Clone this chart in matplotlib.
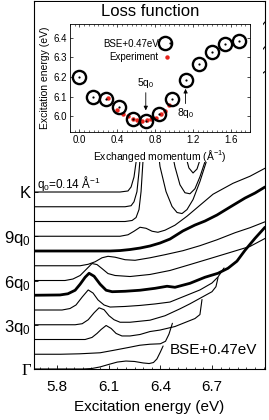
import numpy as np
import matplotlib
matplotlib.use('Agg')
import matplotlib.pyplot as plt
from matplotlib.ticker import MultipleLocator
from matplotlib.patches import Rectangle
from matplotlib.legend_handler import HandlerTuple

plt.rcParams['font.family'] = ['Liberation Sans', 'DejaVu Sans']
plt.rcParams['mathtext.default'] = 'regular'

# loss spectra: energy (eV) and intensity (one unit = spacing between curves)
e_g = [5.666, 5.95, 6.00, 6.05, 6.10, 6.15, 6.20, 6.25, 6.30, 6.335, 6.36, 6.38, 6.40, 6.416]
i_g = [0, 0, 0.03, 0.14, 0.31, 0.47, 0.54, 0.51, 0.41, 0.37, 0.44, 0.68, 1.15, 1.56]

e_q1 = [5.666, 5.82, 5.93, 6.05, 6.13, 6.22, 6.28, 6.34, 6.40, 6.43, 6.45, 6.47]
i_q1 = [0, 0, 0.03, 0.10, 0.27, 0.47, 0.61, 0.68, 0.71, 0.88, 1.36, 2.10]

e_q2 = [5.666, 5.963, 6.003, 6.032, 6.056, 6.085, 6.114, 6.143, 6.177, 6.224, 6.282,
        6.340, 6.398, 6.485, 6.543, 6.601, 6.630, 6.642]
i_q2 = [0, 0, 0.14, 0.41, 0.68, 0.95, 0.75, 0.41, 0.24, 0.24, 0.34,
        0.54, 0.64, 0.88, 1.15, 1.42, 1.69, 2.71]

e_q3 = [5.666, 5.905, 5.946, 5.981, 6.015, 6.044, 6.073, 6.102, 6.131, 6.166, 6.224,
        6.340, 6.427, 6.514, 6.572, 6.636, 6.700, 6.723, 6.735]
i_q3 = [0, 0, 0.07, 0.34, 0.81, 1.15, 1.02, 0.61, 0.34, 0.17, 0.17,
        0.31, 0.61, 1.08, 1.42, 1.83, 2.24, 2.58, 3.19]

e_q4 = [5.666, 5.829, 5.875, 5.910, 5.946, 5.981, 6.009, 6.038, 6.073, 6.108, 6.195,
        6.282, 6.369, 6.456, 6.543, 6.630, 6.700, 6.735, 6.770]
i_q4 = [0, 0, 0.10, 0.34, 0.88, 1.36, 1.15, 0.68, 0.34, 0.20, 0.24,
        0.31, 0.41, 0.54, 0.95, 1.36, 1.83, 2.24, 2.85]

e_q5 = [5.666, 5.817, 5.863, 5.905, 5.934, 5.963, 5.986, 6.015, 6.050, 6.085, 6.120, 6.195,
        6.282, 6.369, 6.439, 6.485, 6.572, 6.659, 6.735, 6.793, 6.845, 6.892, 6.950, 7.008]
i_q5 = [0, 0.02, 0.10, 0.34, 0.75, 1.22, 1.49, 1.29, 0.75, 0.34, 0.24, 0.27,
        0.34, 0.47, 0.61, 0.54, 0.81, 1.22, 1.49, 1.83, 2.31, 3.05, 3.86, 4.61]

e_q6 = [5.666, 5.846, 5.892, 5.934, 5.969, 6.003, 6.032, 6.061, 6.096, 6.137, 6.224,
        6.340, 6.456, 6.572, 6.689, 6.805, 6.921, 7.008]
i_q6 = [0, 0, 0.10, 0.34, 0.75, 1.15, 1.08, 0.81, 0.47, 0.34, 0.27,
        0.41, 0.68, 1.08, 1.49, 1.90, 2.31, 2.85]

e_q7 = [5.666, 5.934, 5.981, 6.021, 6.061, 6.096, 6.137, 6.195, 6.253, 6.340, 6.427,
        6.531, 6.630, 6.729, 6.834, 6.921, 7.008]
i_q7 = [0, 0, 0.10, 0.27, 0.54, 0.64, 0.58, 0.41, 0.37, 0.54, 0.75,
        1.02, 1.36, 1.76, 2.24, 2.58, 2.98]

e_q8 = [5.666, 6.108, 6.166, 6.224, 6.282, 6.340, 6.398, 6.456, 6.531, 6.601, 6.659,
        6.729, 6.805, 6.892, 6.950, 7.008]
i_q8 = [0, 0, 0.03, 0.10, 0.20, 0.34, 0.54, 0.81, 1.36, 1.76, 2.03,
        2.44, 2.98, 3.59, 3.93, 4.34]

e_q9 = [5.666, 6.166, 6.212, 6.247, 6.282, 6.317, 6.352, 6.386, 6.427, 6.485, 6.555,
        6.630, 6.706, 6.822, 6.921, 7.008]
i_q9 = [0, 0, 0.10, 0.34, 0.61, 0.54, 0.34, 0.27, 0.41, 0.75, 1.36,
        2.10, 2.85, 3.59, 4.07, 4.61]

e_q10 = [5.666, 6.195, 6.236, 6.259, 6.276, 6.288, 6.299, 6.328, 6.352, 6.398, 6.433,
         6.468, 6.497, 6.526, 6.555, 6.590, 6.630, 6.671, 6.718, 6.863, 7.008]
i_q10 = [0, 0, 0.07, 0.27, 0.81, 2.03, 4.07, 10.2, 8.5, 3.73, 2.03,
         1.02, 0.61, 0.54, 0.81, 1.49, 2.71, 4.20, 6.10, 8.81, 10.17]

e_q11 = [5.666, 6.195, 6.230, 6.247, 6.264, 6.276, 6.288, 6.340, 6.410, 6.456, 6.485,
         6.514, 6.543, 6.572, 6.601, 6.630, 6.659, 6.700, 6.776, 7.008]
i_q11 = [0, 0, 0.07, 0.34, 1.02, 2.37, 4.07, 10.85, 8.81, 4.41, 2.71,
         1.49, 0.95, 0.88, 1.22, 2.03, 3.05, 4.75, 7.46, 10.85]

e_k = [5.666, 6.166, 6.212, 6.230, 6.247, 6.259, 6.270, 6.369, 6.485, 6.531, 6.549,
       6.566, 6.590, 6.613, 6.630, 6.659, 6.776, 7.008]
i_k = [0, 0, 0.07, 0.34, 1.02, 2.03, 4.07, 11.53, 8.14, 3.73, 2.37,
       1.63, 1.29, 1.56, 2.17, 3.39, 8.14, 11.53]

spectra = [(e_g, i_g), (e_q1, i_q1), (e_q2, i_q2), (e_q3, i_q3), (e_q4, i_q4),
           (e_q5, i_q5), (e_q6, i_q6), (e_q7, i_q7), (e_q8, i_q8), (e_q9, i_q9),
           (e_q10, i_q10), (e_q11, i_q11), (e_k, i_k)]
thick_curves = [5, 8]

ytick_pos = [0, 3, 6, 9, 12]
ytick_txt = ['Γ', '3q$_0$', '6q$_0$', '9q$_0$', 'K']
xticks_main = [5.8, 6.1, 6.4, 6.7]

# inset: peak position vs momentum
q_bse = [0.0, 0.14, 0.28, 0.42, 0.56, 0.70, 0.84, 0.98, 1.12, 1.26, 1.40, 1.54, 1.68]
e_bse = [6.20, 6.10, 6.09, 6.045, 5.988, 5.976, 6.01, 6.087, 6.185, 6.265, 6.325, 6.368, 6.385]
q_exp = [0.30, 0.40, 0.46, 0.51, 0.56, 0.61, 0.66, 0.71, 0.76, 0.81, 0.86, 0.90, 0.95]
e_exp = [6.094, 6.034, 6.01, 6.0, 5.988, 5.979, 5.974, 5.979, 5.986, 5.991, 6.01, 6.026, 6.055]

W, H = 269, 420
fig = plt.figure(figsize=(W / 100, H / 100), dpi=100)
ax = fig.add_axes([34 / W, 1 - 369 / H, 231 / W, 368 / H])

for k, (e, i) in enumerate(spectra):
    lw = 2.0 if k in thick_curves else 0.8
    ax.plot(e, np.array(i) + k, color='black', lw=lw, solid_capstyle='round', zorder=2)

ax.set_xlim(5.666, 7.008)
ax.set_ylim(0, 24.95)
ax.set_xticks(xticks_main)
ax.set_xticklabels([f'{v:.1f}' for v in xticks_main], fontsize=11)
ax.xaxis.set_minor_locator(MultipleLocator(0.05))
ax.set_yticks(ytick_pos)
ax.set_yticklabels(ytick_txt, fontsize=12)
ax.get_yticklabels()[0].set_fontfamily('Liberation Serif')
ax.tick_params(which='both', direction='in', top=False, right=False)
ax.tick_params(which='major', length=3, width=0.6)
ax.tick_params(which='minor', length=1.8, width=0.5)
ax.tick_params(axis='x', pad=8)
ax.tick_params(axis='y', pad=2)
for s in ax.spines.values():
    s.set_linewidth(0.8)
ax.set_xlabel('Excitation energy (eV)', fontsize=11, labelpad=4)

ax.text(5.684, 12.55, 'q$_0$=0.14 Å$^{-1}$', fontsize=8.5, ha='left', va='center', zorder=6)
ax.text(6.706, 1.29, 'BSE+0.47eV', fontsize=11, ha='center', va='center', zorder=6)

# white area behind the inset
ax.add_patch(Rectangle((36 / W, 1 - 162 / H), 227 / W, 160 / H, transform=fig.transFigure,
                       facecolor='white', edgecolor='none', zorder=5))

fig.text(150 / W, 1 - 12 / H, 'Loss function', fontsize=12, ha='center', va='center')

axi = fig.add_axes([70 / W, 1 - 132 / H, 180 / W, 108 / H])
axi.plot(q_exp, e_exp, 'o', color='#e8231b', ms=3.2, mec='none', zorder=3)
circ, = axi.plot(q_bse, e_bse, 'o', mfc='none', mec='black', mew=1.7, ms=9.5, zorder=4)
dot, = axi.plot(q_bse, e_bse, 'o', color='black', ms=1.6, mec='none', zorder=4)
red, = axi.plot([], [], 'o', color='#e8231b', ms=3.2, mec='none')
axi.set_xlim(-0.1, 1.8)
axi.set_ylim(5.92, 6.47)
axi.set_xticks([0.0, 0.4, 0.8, 1.2, 1.6])
axi.set_yticks([6.0, 6.1, 6.2, 6.3, 6.4])
axi.xaxis.set_minor_locator(MultipleLocator(0.05))
axi.tick_params(which='both', direction='in', top=True, right=True, labelsize=7, pad=2)
axi.tick_params(which='major', length=2.5, width=0.5)
axi.tick_params(which='minor', length=1.3, width=0.4)
for s in axi.spines.values():
    s.set_linewidth(0.6)
axi.set_xlabel('Exchanged momentum (Å$^{-1}$)', fontsize=7.5, labelpad=2)
axi.set_ylabel('Excitation energy (eV)', fontsize=7.5, labelpad=3)

axi.legend([(circ, dot), red], ['BSE+0.47eV', 'Experiment'],
           handler_map={tuple: HandlerTuple(ndivide=None, pad=0)},
           loc='upper right', bbox_to_anchor=(0.595, 0.91), frameon=False,
           markerfirst=False, fontsize=7, handlelength=1.0, handletextpad=0.4,
           labelspacing=0.35, borderpad=0)

arr = dict(arrowstyle='-|>', lw=0.6, color='black', mutation_scale=6, shrinkA=0, shrinkB=0)
axi.annotate('5q$_0$', xy=(0.70, 6.03), xytext=(0.70, 6.17), fontsize=7.5,
             ha='center', va='center', arrowprops=arr)
axi.annotate('8q$_0$', xy=(1.12, 6.14), xytext=(1.12, 6.015), fontsize=7.5,
             ha='center', va='center', arrowprops=arr)

fig.savefig('out.png', dpi=100)
